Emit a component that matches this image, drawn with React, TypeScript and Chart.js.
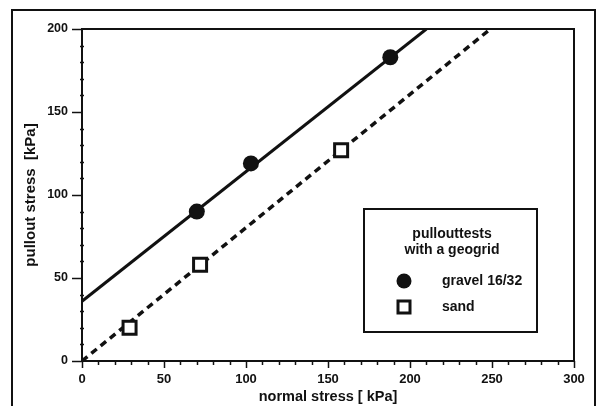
import React, { useEffect, useRef } from "react";
import { Chart, registerables } from "chart.js";

Chart.register(...registerables);

// Data
const gravelX = [70, 103, 188];
const gravelY = [90, 119, 183];
const sandX = [29, 72, 158];
const sandY = [20, 58, 127];
const gravelFitX = [0, 210];
const gravelFitY = [36, 200];
const sandFitX = [0, 249];
const sandFitY = [0, 200];

const xTickLabels = [0, 50, 100, 150, 200, 250, 300];
const yTickLabels = [0, 50, 100, 150, 200];

const legendTitle = ["pullouttests", "with a geogrid"];
const legendItems = ["gravel 16/32", "sand"];

const xTitle = "normal stress [ kPa]";
const yTitle = "pullout stress  [kPa]";

const FONT = "'Liberation Sans', Arial, sans-serif";
const INK = "#111";

const toPts = (xs: number[], ys: number[]) => xs.map((x, i) => ({ x, y: ys[i] }));

const decorPlugin = {
  id: "decor",
  afterDraw(chart: any) {
    const { ctx, chartArea, scales } = chart;
    const xs = scales.x;
    const ys = scales.y;
    ctx.save();
    ctx.strokeStyle = INK;
    ctx.fillStyle = INK;
    // outer frame
    ctx.lineWidth = 2;
    ctx.beginPath();
    ctx.moveTo(12, 406);
    ctx.lineTo(12, 10);
    ctx.lineTo(595, 10);
    ctx.lineTo(595, 406);
    ctx.stroke();

    // plot box top & right
    ctx.lineWidth = 2;
    ctx.beginPath();
    ctx.moveTo(chartArea.left, chartArea.top);
    ctx.lineTo(chartArea.right, chartArea.top);
    ctx.lineTo(chartArea.right, chartArea.bottom);
    ctx.stroke();

    // x ticks
    ctx.lineWidth = 1.5;
    for (let v = 0; v <= 300; v += 10) {
      const px = Math.round(xs.getPixelForValue(v)) + 0.5;
      const major = v % 50 === 0;
      ctx.beginPath();
      ctx.moveTo(px, chartArea.bottom - (major ? 0 : 1));
      ctx.lineTo(px, chartArea.bottom + (major ? 7 : 4));
      ctx.stroke();
    }
    // y ticks
    for (let v = 0; v <= 200; v += 10) {
      const py = Math.round(ys.getPixelForValue(v)) + 0.5;
      const major = v % 50 === 0;
      ctx.beginPath();
      ctx.moveTo(chartArea.left - (major ? 10 : 2), py);
      ctx.lineTo(chartArea.left + (major ? 0 : 2), py);
      ctx.stroke();
    }

    // legend box
    const bx = 364, by = 209, bw = 173, bh = 123;
    ctx.lineWidth = 2;
    ctx.strokeRect(bx, by, bw, bh);
    ctx.font = `bold 14px ${FONT}`;
    ctx.textAlign = "center";
    ctx.textBaseline = "middle";
    ctx.fillText(legendTitle[0], 452, 234);
    ctx.fillText(legendTitle[1], 452, 250);
    ctx.textAlign = "left";
    ctx.fillText(legendItems[0], 442, 281);
    ctx.fillText(legendItems[1], 442, 307);
    // symbols
    ctx.beginPath();
    ctx.arc(404, 281, 7.5, 0, Math.PI * 2);
    ctx.fill();
    ctx.lineWidth = 3;
    ctx.fillStyle = "#fff";
    ctx.fillRect(398, 301, 12, 12);
    ctx.strokeRect(398, 301, 12, 12);
    ctx.restore();
  },
};

export default function App() {
  const ref = useRef<HTMLCanvasElement>(null);
  useEffect(() => {
    document.body.style.margin = "0";
    const chart = new Chart(ref.current!, {
      type: "scatter",
      data: {
        datasets: [
          {
            label: legendItems[0],
            data: toPts(gravelX, gravelY),
            pointStyle: "circle",
            pointRadius: 8,
            backgroundColor: INK,
            borderColor: INK,
            borderWidth: 0,
          },
          {
            label: legendItems[1],
            data: toPts(sandX, sandY),
            pointStyle: "rect",
            pointRadius: 9.2,
            backgroundColor: "#fff",
            borderColor: INK,
            borderWidth: 3,
          },
          {
            label: "gravel fit",
            data: toPts(gravelFitX, gravelFitY),
            showLine: true,
            pointRadius: 0,
            borderColor: INK,
            borderWidth: 3,
          },
          {
            label: "sand fit",
            data: toPts(sandFitX, sandFitY),
            showLine: true,
            pointRadius: 0,
            borderColor: INK,
            borderWidth: 3.5,
            borderDash: [7, 5],
          },
        ],
      },
      options: {
        animation: false,
        responsive: false,
        devicePixelRatio: 1,
        layout: { padding: { left: 0, top: 29, right: 25, bottom: 0 } },
        plugins: { legend: { display: false }, tooltip: { enabled: false } },
        scales: {
          x: {
            type: "linear",
            min: 0,
            max: 300,
            grid: { display: false },
            border: { display: true, color: INK, width: 2 },
            afterBuildTicks: (s: any) => {
              s.ticks = xTickLabels.map((v) => ({ value: v }));
            },
            afterFit: (s: any) => {
              s.height = 45;
            },
            ticks: {
              color: INK,
              padding: 3,
              maxRotation: 0,
              font: { family: FONT, size: 13, weight: "bold" },
            },
            title: {
              display: true,
              text: xTitle,
              color: INK,
              padding: { top: 0, bottom: 0 },
              font: { family: FONT, size: 14.5, weight: "bold" },
            },
          },
          y: {
            type: "linear",
            min: 0,
            max: 200,
            grid: { display: false },
            border: { display: true, color: INK, width: 2 },
            afterBuildTicks: (s: any) => {
              s.ticks = yTickLabels.map((v) => ({ value: v }));
            },
            afterFit: (s: any) => {
              s.width = 82;
            },
            ticks: {
              color: INK,
              padding: 6,
              font: { family: FONT, size: 12.5, weight: "bold" },
            },
            title: {
              display: true,
              text: yTitle,
              color: INK,
              padding: { top: 22, bottom: 0 },
              font: { family: FONT, size: 15, weight: "bold" },
            },
          },
        },
      },
      plugins: [decorPlugin],
    });
    return () => chart.destroy();
  }, []);
  return (
    <div style={{ position: "absolute", left: 0, top: 0, width: 599, height: 406, background: "#fff" }}>
      <canvas ref={ref} width={599} height={406} />
    </div>
  );
}
